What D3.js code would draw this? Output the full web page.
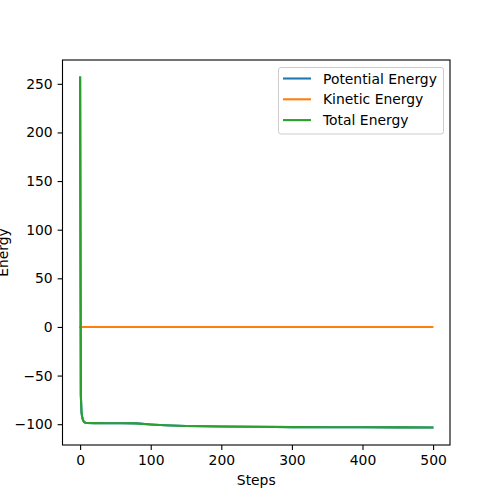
<!DOCTYPE html>
<html>
<head>
<meta charset="utf-8">
<script src="https://cdn.jsdelivr.net/npm/d3@7"></script>
<style>
  body { margin: 0; background: #fff; }
  svg text { font-family: "DejaVu Sans", sans-serif; }
</style>
</head>
<body>
<div id="chart"></div>
<script>
// readings (steps and energy values)
var steps = [0, 1, 2, 3, 4, 5, 6, 8, 10, 20, 40, 60, 80, 100, 120, 150, 200, 250, 300, 350, 400, 450, 499];
var totalEnergy = [256.5, -70, -88, -93, -95.5, -97, -98, -98.6, -98.8, -98.9, -99, -99, -99.2, -100.3, -101.1, -101.9, -102.4, -102.7, -103, -103.1, -103.2, -103.3, -103.4];
var potentialEnergy = totalEnergy.slice();
var kineticEnergy = steps.map(function() { return 0; });
var seriesNames = ["Potential Energy", "Kinetic Energy", "Total Energy"];
var xTicks = [0, 100, 200, 300, 400, 500];
var yTicks = [-100, -50, 0, 50, 100, 150, 200, 250];

var width = 500,
    height = 500;
var margin = { top: 60, right: 50, bottom: 55, left: 62.5 };
var color = ['#1f77b4', '#ff7f0e', '#2ca02c'];

var svg = d3.select("#chart").append("svg")
    .attr("width", width)
    .attr("height", height);

var xMin = d3.min(steps), xMax = d3.max(steps);
var xPad = (xMax - xMin) * 0.05;
var x = d3.scaleLinear()
    .domain([xMin - xPad, xMax + xPad])
    .range([margin.left, width - margin.right]);

var allVals = totalEnergy.concat(potentialEnergy, kineticEnergy);
var yMin = d3.min(allVals), yMax = d3.max(allVals);
var yPad = (yMax - yMin) * 0.05;
var y = d3.scaleLinear()
    .domain([yMin - yPad, yMax + yPad])
    .range([height - margin.bottom, margin.top]);

var series = [potentialEnergy, kineticEnergy, totalEnergy];

var line = d3.line()
    .x(function(d, i) { return x(steps[i]); })
    .y(function(d) { return y(d); });

svg.append("g").selectAll("path")
    .data(series)
    .enter().append("path")
    .attr("d", line)
    .attr("fill", "none")
    .attr("stroke", function(d, i) { return color[i]; })
    .attr("stroke-width", 2.1)
    .attr("stroke-linejoin", "round")
    .attr("stroke-linecap", "square");

// axes
var xAxis = svg.append("g")
    .attr("transform", "translate(0," + (height - margin.bottom) + ")")
    .call(d3.axisBottom(x).tickValues(xTicks).tickSize(4.9).tickPadding(4.9));

var yAxis = svg.append("g")
    .attr("transform", "translate(" + margin.left + ",0)")
    .call(d3.axisLeft(y).tickValues(yTicks).tickSize(4.9).tickPadding(4.9));

[xAxis, yAxis].forEach(function(a) {
    a.select(".domain").remove();
    a.selectAll("line").attr("stroke", "#000").attr("stroke-width", 1.1);
    a.selectAll("text")
        .style("font-size", "13.9px")
        .style("font-family", "DejaVu Sans, sans-serif")
        .attr("fill", "#000");
});
yAxis.selectAll("text").text(function(d) { return d < 0 ? "\u2212" + Math.abs(d) : d; });

// frame
svg.append("rect")
    .attr("x", margin.left)
    .attr("y", margin.top)
    .attr("width", width - margin.right - margin.left)
    .attr("height", height - margin.bottom - margin.top)
    .attr("fill", "none")
    .attr("stroke", "#000")
    .attr("stroke-width", 1.1);

svg.append("text")
    .attr("x", (margin.left + width - margin.right) / 2)
    .attr("y", 485)
    .attr("text-anchor", "middle")
    .style("font-size", "13.9px")
    .text("Steps");

svg.append("text")
    .attr("transform", "translate(8," + ((margin.top + height - margin.bottom) / 2) + ") rotate(-90)")
    .attr("text-anchor", "middle")
    .style("font-size", "13.9px")
    .text("Energy");

// legend
var legendBox = svg.append("rect")
    .attr("x", 278.5)
    .attr("y", 67.5)
    .attr("width", 165)
    .attr("height", 66.5)
    .attr("rx", 2.5)
    .attr("fill", "#fff")
    .attr("fill-opacity", 0.8)
    .attr("stroke", "#ccc")
    .attr("stroke-width", 1);

var legend = svg.selectAll(".legend")
    .data(seriesNames)
    .enter().append("g")
    .attr("class", "legend")
    .attr("transform", function(d, i) {
        var ly = 78.5 + 20.8 * i;
        return "translate(283," + ly + ")";
    });

legend.append("line")
    .attr("x1", 0)
    .attr("x2", 28)
    .attr("stroke", function(d, i) { return color[i]; })
    .attr("stroke-width", 2.1);

legend.append("text")
    .attr("x", 40)
    .attr("y", 5)
    .style("font-size", "13.9px")
    .text(function(d) { return d; });
</script>
</body>
</html>
